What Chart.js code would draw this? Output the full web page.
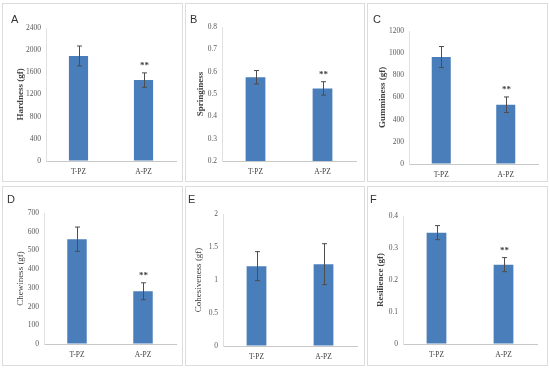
<!DOCTYPE html>
<html>
<head>
<meta charset="utf-8">
<script src="https://cdn.jsdelivr.net/npm/chart.js@4.4.0/dist/chart.umd.min.js"></script>
<style>
  body { margin: 0; background: #fff; }
  #wrap { position: relative; width: 550px; height: 369px; background: #fff; overflow: hidden; }
  .panel { position: absolute; border: 1px solid #dcdcdc; box-sizing: border-box; background: #fff; }
  .panel canvas { position: absolute; left: 0; top: 0; }
  .letter { position: absolute; font-family: "Liberation Sans", Arial, sans-serif; font-size: 11px; color: #333; }
</style>
</head>
<body>
<div id="wrap"></div>
<script>
// groups on the x axis
const groups = ['T-PZ', 'A-PZ'];

// means and standard deviations
const hardness = [1895, 1460];
const hardnessErr = [180, 130];
const springiness = [0.575, 0.525];
const springinessErr = [0.03, 0.03];
const gumminess = [965, 535];
const gumminessErr = [95, 70];
const chewiness = [560, 282];
const chewinessErr = [65, 45];
const cohesiveness = [1.21, 1.24];
const cohesivenessErr = [0.22, 0.31];
const resilience = [0.348, 0.248];
const resilienceErr = [0.022, 0.022];

// significance marks
const marks = ['', '**'];
const noMarks = ['', ''];

// y axis ranges
const hardnessTicks = { min: 0, max: 2400, step: 400 };
const springinessTicks = { min: 0.2, max: 0.8, step: 0.1 };
const gumminessTicks = { min: 0, max: 1200, step: 200 };
const chewinessTicks = { min: 0, max: 700, step: 100 };
const cohesivenessTicks = { min: 0, max: 2, step: 0.5 };
const resilienceTicks = { min: 0, max: 0.4, step: 0.1 };

const BAR = '#4a7ebb';
const SERIF = '"Liberation Serif", "Times New Roman", serif';

// error bars + significance stars
const errorBarPlugin = {
    id: 'errorBars',
    afterDatasetsDraw(chart, args, opts) {
        const ctx = chart.ctx;
        const meta = chart.getDatasetMeta(0);
        const y = chart.scales.y;
        ctx.save();
        ctx.strokeStyle = '#4d4d4d';
        ctx.lineWidth = 1;
        meta.data.forEach((bar, i) => {
            const v = chart.data.datasets[0].data[i];
            const e = opts.err[i];
            const x = Math.round(bar.x) + 0.5;
            const yt = y.getPixelForValue(v + e);
            const yb = y.getPixelForValue(v - e);
            ctx.beginPath();
            ctx.moveTo(x, yt); ctx.lineTo(x, yb);
            ctx.moveTo(x - 2.5, yt); ctx.lineTo(x + 2.5, yt);
            ctx.moveTo(x - 2.5, yb); ctx.lineTo(x + 2.5, yb);
            ctx.stroke();
            if (opts.marks[i]) {
                ctx.fillStyle = '#404040';
                ctx.font = 'bold 9px ' + SERIF;
                ctx.textAlign = 'center';
                ctx.textBaseline = 'middle';
                ctx.fillText(opts.marks[i], x, yt - 7);
            }
        });
        ctx.restore();
    }
};

function makePanel(p) {
    const wrap = document.getElementById('wrap');
    const div = document.createElement('div');
    div.className = 'panel';
    div.style.left = p.box[0] + 'px';
    div.style.top = p.box[1] + 'px';
    div.style.width = p.box[2] + 'px';
    div.style.height = p.box[3] + 'px';
    const canvas = document.createElement('canvas');
    canvas.width = p.box[2] - 2;
    canvas.height = p.box[3] - 2;
    div.appendChild(canvas);
    const letter = document.createElement('div');
    letter.className = 'letter';
    letter.textContent = p.letter;
    letter.style.left = p.letterPos[0] + 'px';
    letter.style.top = p.letterPos[1] + 'px';
    div.appendChild(letter);
    wrap.appendChild(div);

    const W = canvas.width, H = canvas.height;
    const [pl, pt, pr, pb] = p.plot;

    new Chart(canvas, {
        type: 'bar',
        data: {
            labels: groups,
            datasets: [{
                data: p.values,
                backgroundColor: BAR,
                barPercentage: 0.295,
                categoryPercentage: 1
            }]
        },
        options: {
            responsive: false,
            animation: false,
            events: [],
            layout: { padding: { left: 0, top: pt, right: W - pr, bottom: 0 } },
            plugins: {
                legend: { display: false },
                tooltip: { enabled: false },
                errorBars: { err: p.err, marks: p.marks }
            },
            scales: {
                x: {
                    grid: { color: 'transparent', drawTicks: false },
                    border: { color: '#c8c8c8' },
                    ticks: { color: '#404040', font: { family: SERIF, size: 7.5 }, padding: 7 },
                    afterFit: s => { s.height = H - pb; }
                },
                y: {
                    min: p.ticks.min,
                    max: p.ticks.max,
                    grid: { color: 'transparent', drawTicks: false },
                    border: { color: '#e0e0e0' },
                    ticks: {
                        stepSize: p.ticks.step,
                        color: '#595959',
                        font: { family: SERIF, size: 7.5 },
                        padding: 5,
                        callback: v => String(+v.toFixed(2))
                    },
                    title: {
                        display: true,
                        text: p.title,
                        color: '#404040',
                        font: { family: SERIF, size: 9, weight: p.bold ? 'bold' : 'normal' },
                        padding: { top: p.titleX - 5, bottom: 0 }
                    },
                    afterFit: s => { s.width = pl; }
                }
            }
        },
        plugins: [errorBarPlugin]
    });
}

makePanel({ box: [2, 3, 181, 179], letter: 'A', letterPos: [8, 9], title: 'Hardness (gf)', bold: true, titleX: 17,
    values: hardness, err: hardnessErr, marks: marks, ticks: hardnessTicks, plot: [43, 24, 173, 157] });
makePanel({ box: [185, 3, 180, 179], letter: 'B', letterPos: [4, 9], title: 'Springiness', bold: true, titleX: 14,
    values: springiness, err: springinessErr, marks: marks, ticks: springinessTicks, plot: [36, 23, 170, 157] });
makePanel({ box: [367, 3, 181, 179], letter: 'C', letterPos: [5, 9], title: 'Gumminess (gf)', bold: true, titleX: 14,
    values: gumminess, err: gumminessErr, marks: marks, ticks: gumminessTicks, plot: [41, 27, 170, 160] });
makePanel({ box: [2, 186, 181, 180], letter: 'D', letterPos: [4, 6], title: 'Chewiness (gf)', bold: false, titleX: 17,
    values: chewiness, err: chewinessErr, marks: marks, ticks: chewinessTicks, plot: [41, 26, 173, 157] });
makePanel({ box: [185, 186, 180, 180], letter: 'E', letterPos: [2, 6], title: 'Cohesiveness (gf)', bold: false, titleX: 12,
    values: cohesiveness, err: cohesivenessErr, marks: noMarks, ticks: cohesivenessTicks, plot: [37, 27, 171, 159] });
makePanel({ box: [367, 186, 181, 180], letter: 'F', letterPos: [2, 6], title: 'Resilience (gf)', bold: true, titleX: 12,
    values: resilience, err: resilienceErr, marks: marks, ticks: resilienceTicks, plot: [35, 29, 169, 157] });
</script>
</body>
</html>
